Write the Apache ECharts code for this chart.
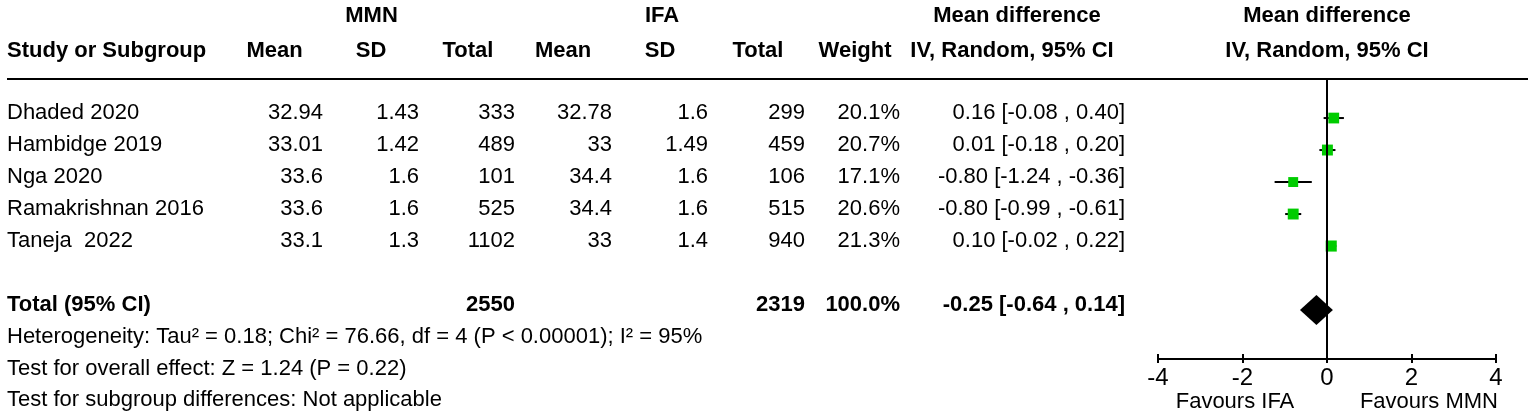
<!DOCTYPE html>
<html>
<head>
<meta charset="utf-8">
<script src="https://cdn.jsdelivr.net/npm/echarts@6/dist/echarts.min.js"></script>
<style>
html,body{margin:0;padding:0;background:#fff;}
#c{width:1535px;height:420px;}
</style>
</head>
<body>
<div id="c"></div>
<script>
// ---- data ----
const studies   = ['Dhaded 2020', 'Hambidge 2019', 'Nga 2020', 'Ramakrishnan 2016', 'Taneja  2022'];
const mmnMean   = [32.94, 33.01, 33.6, 33.6, 33.1];
const mmnSD     = [1.43, 1.42, 1.6, 1.6, 1.3];
const mmnTotal  = [333, 489, 101, 525, 1102];
const ifaMean   = [32.78, 33, 34.4, 34.4, 33];
const ifaSD     = [1.6, 1.49, 1.6, 1.6, 1.4];
const ifaTotal  = [299, 459, 106, 515, 940];
const weights   = [20.1, 20.7, 17.1, 20.6, 21.3];
const md        = [0.16, 0.01, -0.80, -0.80, 0.10];
const ciLow     = [-0.08, -0.18, -1.24, -0.99, -0.02];
const ciHigh    = [0.40, 0.20, -0.36, -0.61, 0.22];
const totalMMN  = 2550;
const totalIFA  = 2319;
const totalWeight = 100.0;
const totalMD   = -0.25;
const totalLow  = -0.64;
const totalHigh = 0.14;
const xTicks    = [-4, -2, 0, 2, 4];
const footerLines = [
  'Heterogeneity: Tau\u00B2 = 0.18; Chi\u00B2 = 76.66, df = 4 (P < 0.00001); I\u00B2 = 95%',
  'Test for overall effect: Z = 1.24 (P = 0.22)',
  'Test for subgroup differences: Not applicable'
];
const favourLeft = 'Favours IFA';
const favourRight = 'Favours MMN';

// ---- chart ----
const FONT = '"Liberation Sans", Arial, Helvetica, sans-serif';
const chart = echarts.init(document.getElementById('c'), null, {renderer: 'canvas'});
const rows = studies.map((_, i) => i);
const totalRow = 6;

function fmtCI(m, lo, hi) {
  return m.toFixed(2) + ' [' + lo.toFixed(2) + ' , ' + hi.toFixed(2) + ']';
}

chart.setOption({
  animation: false,
  backgroundColor: '#fff',
  grid: {left: 1158, top: 79, width: 338, height: 280, containLabel: false},
  xAxis: [
    {
      type: 'value', min: xTicks[0], max: xTicks[xTicks.length - 1], interval: 2, position: 'bottom',
      axisLine: {show: true, onZero: false, lineStyle: {color: '#000', width: 2}},
      axisTick: {show: true, length: 4, lineStyle: {color: '#000', width: 2}},
      axisLabel: {fontSize: 24, color: '#000', fontFamily: FONT, margin: 7},
      splitLine: {show: false}
    },
    {
      type: 'value', min: xTicks[0], max: xTicks[xTicks.length - 1], interval: 2, position: 'bottom',
      axisLine: {show: false, onZero: false},
      axisTick: {show: true, inside: true, length: 5, lineStyle: {color: '#000', width: 2}},
      axisLabel: {show: false},
      splitLine: {show: false}
    }
  ],
  yAxis: {type: 'value', min: -1.22, max: 7.53, inverse: true, show: false},
  series: [
    {
      type: 'custom',
      z: 2,
      renderItem: function (params, api) {
        const a = api.coord([api.value(1), api.value(0)]);
        const b = api.coord([api.value(2), api.value(0)]);
        return {type: 'line', shape: {x1: a[0], y1: a[1], x2: b[0], y2: b[1]},
                style: {stroke: '#000', lineWidth: 2}};
      },
      encode: {x: [1, 2], y: 0},
      data: rows.map(i => [i, ciLow[i], ciHigh[i]])
    },
    {
      type: 'scatter',
      z: 3,
      symbol: 'rect',
      symbolSize: function (v, p) { return Math.sqrt(weights[p.dataIndex]) * 2.4; },
      itemStyle: {color: '#00CC00', opacity: 1},
      data: rows.map(i => [md[i], i]),
      markLine: {
        silent: true, symbol: 'none', label: {show: false},
        lineStyle: {color: '#000', width: 2, type: 'solid'},
        data: [{xAxis: 0}]
      }
    },
    {
      type: 'custom',
      z: 4,
      renderItem: function (params, api) {
        const row = api.value(0);
        const l = api.coord([api.value(1), row]);
        const c = api.coord([api.value(2), row]);
        const r = api.coord([api.value(3), row]);
        const h = 15;
        return {type: 'polygon',
                shape: {points: [[l[0], c[1]], [c[0], c[1] - h], [r[0], c[1]], [c[0], c[1] + h]]},
                style: {fill: '#000'}};
      },
      encode: {x: [1, 2, 3], y: 0},
      data: [[totalRow, totalLow, totalMD, totalHigh]]
    }
  ]
});

// ---- table text ----
function txt(text, x, y, align, bold) {
  return {
    type: 'text', silent: true,
    style: {
      text: String(text), x: x, y: y,
      font: (bold ? 'bold ' : '') + '22px ' + FONT,
      fill: '#000',
      align: align, textAlign: align,
      verticalAlign: 'middle', textVerticalAlign: 'middle'
    }
  };
}

const els = [];
// horizontal rule under headers
els.push({type: 'line', silent: true, shape: {x1: 7, y1: 79, x2: 1528, y2: 79},
          style: {stroke: '#000', lineWidth: 2}});

// header row 1
const h1 = 16, h2 = 51;
els.push(txt('MMN', 371.5, h1, 'center', true));
els.push(txt('IFA', 662, h1, 'center', true));
els.push(txt('Mean difference', 1017, h1, 'center', true));
els.push(txt('Mean difference', 1327, h1, 'center', true));
// header row 2
els.push(txt('Study or Subgroup', 7, h2, 'left', true));
els.push(txt('Mean', 274.5, h2, 'center', true));
els.push(txt('SD', 371, h2, 'center', true));
els.push(txt('Total', 468, h2, 'center', true));
els.push(txt('Mean', 563, h2, 'center', true));
els.push(txt('SD', 660, h2, 'center', true));
els.push(txt('Total', 758, h2, 'center', true));
els.push(txt('Weight', 855, h2, 'center', true));
els.push(txt('IV, Random, 95% CI', 1012, h2, 'center', true));
els.push(txt('IV, Random, 95% CI', 1327, h2, 'center', true));

// column right edges
const colX = [323, 419, 515, 612, 708, 805, 900, 1125];
rows.forEach(i => {
  const y = chart.convertToPixel({seriesIndex: 1}, [0, i])[1] - 5;
  els.push(txt(studies[i], 7, y, 'left', false));
  const vals = [mmnMean[i], mmnSD[i], mmnTotal[i], ifaMean[i], ifaSD[i], ifaTotal[i],
                weights[i].toFixed(1) + '%', fmtCI(md[i], ciLow[i], ciHigh[i])];
  vals.forEach((v, k) => els.push(txt(v, colX[k], y, 'right', false)));
});

// total row
const ty = chart.convertToPixel({seriesIndex: 1}, [0, totalRow])[1] - 5;
els.push(txt('Total (95% CI)', 7, ty, 'left', true));
els.push(txt(totalMMN, colX[2], ty, 'right', true));
els.push(txt(totalIFA, colX[5], ty, 'right', true));
els.push(txt(totalWeight.toFixed(1) + '%', colX[6], ty, 'right', true));
els.push(txt(fmtCI(totalMD, totalLow, totalHigh), colX[7], ty, 'right', true));

// footer
const footY = [337, 368.5, 400];
footerLines.forEach((s, k) => els.push(txt(s, 7, footY[k], 'left', false)));

// favours labels
els.push(txt(favourLeft, 1235, 402, 'center', false));
els.push(txt(favourRight, 1498, 402, 'right', false));

chart.setOption({graphic: {elements: els}});
</script>
</body>
</html>
